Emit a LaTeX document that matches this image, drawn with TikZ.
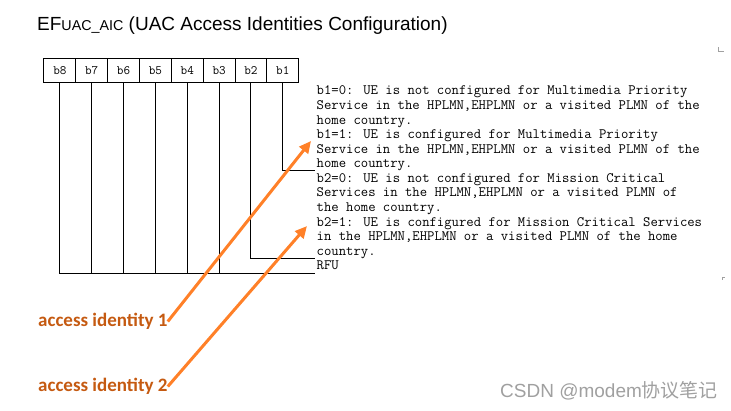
\documentclass[tikz,border=0pt]{standalone}
\usepackage{fontspec}
\setmainfont{Liberation Sans}
\newfontfamily\labelfont{Carlito}
\newfontfamily\cjkfont{Noto Sans CJK SC}
\usetikzlibrary{arrows.meta}

\definecolor{arroworange}{RGB}{255,128,40}
\definecolor{labelbrown}{RGB}{197,90,17}
\definecolor{markgray}{RGB}{160,160,160}

\tikzset{
  bitcell/.style={draw, line width=1pt, minimum width=31.84pt, minimum height=24pt, inner sep=0pt,
    font=\ttfamily\fontsize{12.8}{12.8}\selectfont},
  bitline/.style={line width=1pt},
  desctext/.style={anchor=north west, inner sep=0pt, align=left,
    font=\ttfamily\fontsize{14.3}{14.58}\selectfont},
  idlabel/.style={anchor=base west, inner sep=0pt, text=labelbrown,
    font=\labelfont\bfseries\fontsize{19}{19}\selectfont},
  idarrow/.style={draw=arroworange, line width=3pt, -{Triangle[length=12pt, width=11pt]}},
}

\begin{document}
\begin{tikzpicture}[x=1pt, y=-1pt]
\useasboundingbox (0,0) rectangle (731,411);

% title
\node[anchor=base west, inner sep=0pt, font=\fontsize{19}{19}\selectfont] (title) at (37,31)
  {EF{\fontsize{14.3}{14.3}\selectfont UAC\_AIC} (UAC Access Identities Configuration)};

% bit cells b1 ... b8
\foreach \i in {1,...,8}
  \node[bitcell] (b\i) at ({298.7-31.84*(\i-0.5)},71) {b\i};

% leader lines
\coordinate (e1) at (315,171);
\coordinate (e2) at (315,259);
\coordinate (e3) at (315,274);
\draw[bitline] (b1.south) |- (e1);
\draw[bitline] (b2.south) |- (e2);
\draw[bitline] (b8.south) |- (e3);
\foreach \i in {3,...,7}
  \draw[bitline] (b\i.south) -- (b\i.south |- e3);

% descriptions
\node[desctext] (d1) at (316.5,85.8) {b1=0: UE is not configured for Multimedia Priority\\
Service in the HPLMN,EHPLMN or a visited PLMN of the\\
home country.\\
b1=1: UE is configured for Multimedia Priority\\
Service in the HPLMN,EHPLMN or a visited PLMN of the\\
home country.};
\node[desctext] (d2) at (316.5,173.3) {b2=0: UE is not configured for Mission Critical\\
Services in the HPLMN,EHPLMN or a visited PLMN of\\
the home country.\\
b2=1: UE is configured for Mission Critical Services\\
in the HPLMN,EHPLMN or a visited PLMN of the home\\
country.};
\node[desctext] (rfu) at (316.5,260.8) {RFU};

% access identities
\node[idlabel] (ai1) at (38,326.7) {access identity 1};
\node[idlabel] (ai2) at (38,391.7) {access identity 2};
\coordinate (t1) at (311,141);
\coordinate (t2) at (307,226);
\draw[idarrow] (ai1.east) -- (t1);
\draw[idarrow] (ai2.east) -- (t2);

% page marks
\draw[markgray, line width=0.6pt] (718.3,47.5) -- (718.3,51) -- (724,51);
\draw[markgray, line width=0.6pt] (722,280) -- (722,277) -- (725,277);

% watermark
\node[anchor=base west, inner sep=0pt, text=markgray, font=\fontsize{19}{19}\selectfont] (wm) at (500,398)
  {CSDN @modem{\cjkfont 协议笔记}};
\end{tikzpicture}
\end{document}
